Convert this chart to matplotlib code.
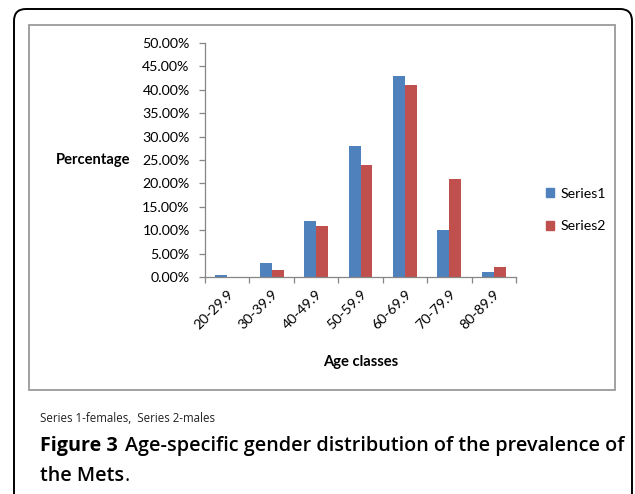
import matplotlib
matplotlib.use("Agg")
import matplotlib.pyplot as plt
import numpy as np
from matplotlib.patches import FancyBboxPatch, Rectangle, Patch

# Data
age_classes = ["20-29.9", "30-39.9", "40-49.9", "50-59.9", "60-69.9", "70-79.9", "80-89.9"]
series1 = [0.4, 3.0, 12.0, 28.0, 43.0, 10.0, 1.1]   # females (%)
series2 = [0.0, 1.4, 11.0, 24.0, 41.0, 21.0, 2.1]   # males (%)
y_ticks = [0, 5, 10, 15, 20, 25, 30, 35, 40, 45, 50]

W, H = 635, 494
fig = plt.figure(figsize=(W / 100, H / 100), dpi=100)
fig.patch.set_facecolor("white")

# Pixel-space background axes for frames and captions
bg = fig.add_axes([0, 0, 1, 1])
bg.set_xlim(0, W)
bg.set_ylim(H, 0)
bg.axis("off")

outer = FancyBboxPatch((14, 9), 618, 520, boxstyle="round,pad=0,rounding_size=12",
                       fill=False, edgecolor="black", lw=1.4, clip_on=False)
bg.add_patch(outer)
inner = Rectangle((29, 25), 586, 365, fill=False, edgecolor="#9a9a9a", lw=1.3)
bg.add_patch(inner)

chart_font = "Lato"
cap_font = "Open Sans"
fs = 10.2

# Chart axes
x0, x1, ytop, ybot = 205, 516, 43, 277
ax = fig.add_axes([x0 / W, 1 - ybot / H, (x1 - x0) / W, (ybot - ytop) / H])
x = np.arange(len(age_classes))
bw = 0.27
blue, red = "#4F81BD", "#C0504D"
ax.bar(x - bw / 2, series1, bw, color=blue, label="Series1")
ax.bar(x + bw / 2, series2, bw, color=red, label="Series2")
ax.set_xlim(-0.5, len(age_classes) - 0.5)
ax.set_ylim(0, 50)
ax.set_yticks(y_ticks)
ax.set_yticklabels([f"{v:.2f}%" for v in y_ticks], fontsize=fs, family=chart_font)
ax.set_xticks(x)
ax.set_xticklabels(age_classes, rotation=45, ha="right", rotation_mode="anchor",
                   fontsize=fs, family=chart_font)
ax.set_xticks(np.arange(-0.5, len(age_classes) + 0.5, 1), minor=True)
ax.tick_params(axis="x", which="major", length=0, pad=8)
ax.tick_params(axis="x", which="minor", length=4, color="#868686", width=0.9)
ax.tick_params(axis="y", length=4, color="#868686", width=0.9, pad=7)
for s in ["top", "right"]:
    ax.spines[s].set_visible(False)
for s in ["left", "bottom"]:
    ax.spines[s].set_color("#868686")
    ax.spines[s].set_linewidth(0.9)
ax.set_facecolor("none")

bg.text(130, 160, "Percentage", ha="right", va="center", fontsize=10.6,
        fontweight="bold", family=chart_font)
bg.text(361, 362, "Age classes", ha="center", va="center", fontsize=10.6,
        fontweight="bold", family=chart_font)

handles = [Patch(color=blue, label="Series1"), Patch(color=red, label="Series2")]
fig.legend(handles=handles, loc="upper left", bbox_to_anchor=(533, 175),
           bbox_transform=bg.transData, frameon=False,
           prop={"family": chart_font, "size": fs},
           handlelength=0.6, handleheight=0.6, handletextpad=0.45, labelspacing=1.45)

# Captions
bg.text(40, 418, "Series 1-females,  Series 2-males", ha="left", va="center",
        fontsize=8.3, family=cap_font, color="#222222")

fig.canvas.draw()
r = fig.canvas.get_renderer()
inv = bg.transData.inverted()
cap_fs = 14.2
t1 = bg.text(40, 446, "Figure 3", ha="left", va="center", fontsize=cap_fs,
             fontweight="bold", family=cap_font)
bb = t1.get_window_extent(r)
xe = inv.transform((bb.x1, bb.y0))[0]
bg.text(xe + 7, 446, "Age-specific gender distribution of the prevalence of",
        ha="left", va="center", fontsize=cap_fs, fontweight="semibold", family=cap_font)
t3 = bg.text(40, 476, "the Mets", ha="left", va="center", fontsize=cap_fs,
             fontweight="semibold", family=cap_font)
bb3 = t3.get_window_extent(r)
xe3 = inv.transform((bb3.x1, bb3.y0))[0]
bg.text(xe3, 476, ".", ha="left", va="center", fontsize=cap_fs, family=cap_font)

fig.savefig("out.png", dpi=100)
